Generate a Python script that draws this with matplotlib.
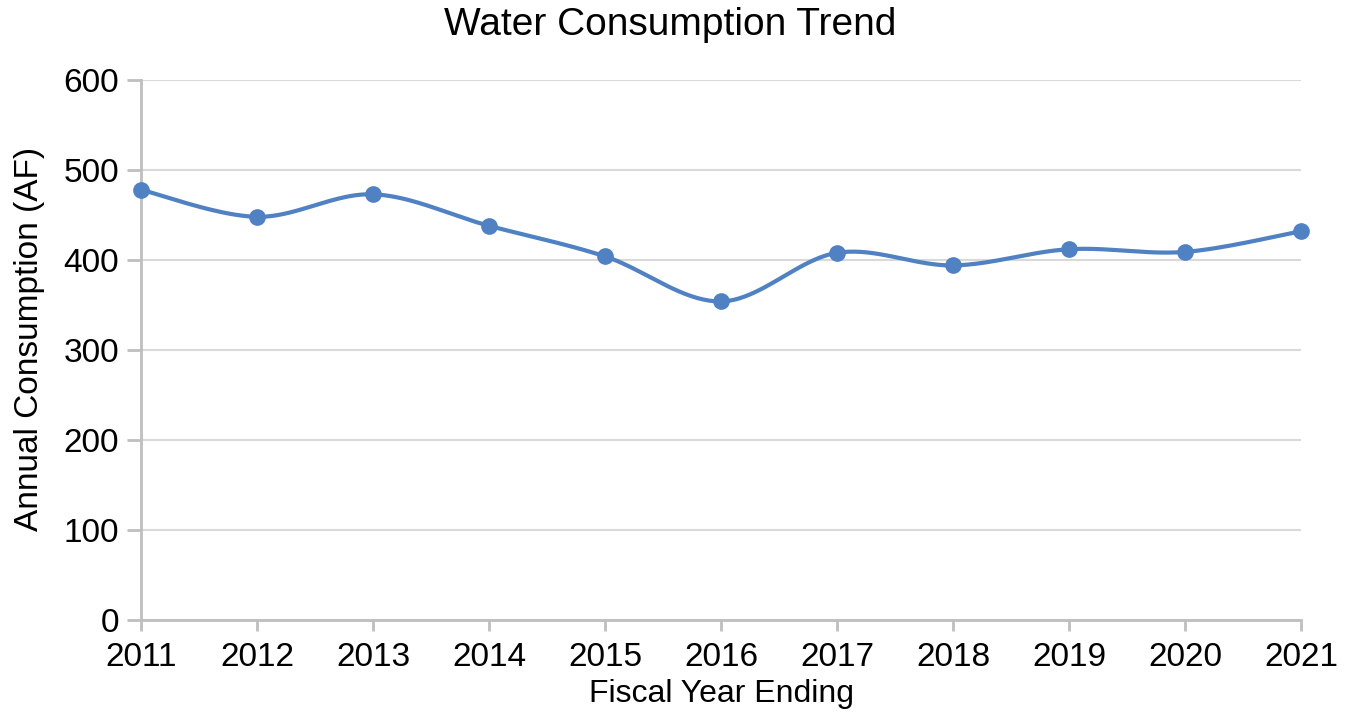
import numpy as np
from matplotlib import pyplot as plt

plt.rcParams['font.family'] = ['Liberation Sans', 'DejaVu Sans']

# данные
years = [2011, 2012, 2013, 2014, 2015, 2016, 2017, 2018, 2019, 2020, 2021]
consumption = [478, 448, 473, 438, 404, 354, 408, 394, 412, 409, 432]

blue = '#4F81C3'
grey = '#BFBFBF'

# сглаживание как в Excel (кривые Catmull-Rom через точки)
def smooth(x, y, n=40):
    x = np.asarray(x, float)
    y = np.asarray(y, float)
    px = np.concatenate([[x[0]], x, [x[-1]]])
    py = np.concatenate([[y[0]], y, [y[-1]]])
    xs, ys = [], []
    t = np.linspace(0, 1, n)
    for i in range(1, len(px) - 2):
        p0, p1, p2, p3 = (np.array([px[j], py[j]]) for j in range(i - 1, i + 3))
        c1 = p1 + (p2 - p0) / 6
        c2 = p2 - (p3 - p1) / 6
        b = ((1 - t) ** 3)[:, None] * p1 + (3 * (1 - t) ** 2 * t)[:, None] * c1 \
            + (3 * (1 - t) * t ** 2)[:, None] * c2 + (t ** 3)[:, None] * p2
        xs.extend(b[:, 0])
        ys.extend(b[:, 1])
    return xs, ys

fig = plt.figure(figsize=(13.51, 7.17), dpi=100)
ax = fig.add_axes([0.1044, 0.1353, 0.963 - 0.1044, 0.8884 - 0.1353])

sx, sy = smooth(years, consumption)
ax.plot(sx, sy, color=blue, lw=3, zorder=3)
ax.plot(years, consumption, 'o', color=blue, ms=11, zorder=4, clip_on=False)

ax.set_xlim(2011, 2021)
ax.set_ylim(0, 600)
ax.set_xticks(years)
ax.set_yticks(range(0, 601, 100))
ax.grid(axis='y', color='#D9D9D9', lw=1.5)
ax.set_axisbelow(True)

for s in ['top', 'right']:
    ax.spines[s].set_visible(False)
for s in ['left', 'bottom']:
    ax.spines[s].set_color(grey)
    ax.spines[s].set_linewidth(2)
ax.tick_params(axis='both', colors=grey, width=2, length=10, labelsize=24, labelcolor='black')
ax.tick_params(axis='x', length=8, pad=8)
ax.tick_params(axis='y', pad=6)

fig.text(0.496, 0.965, 'Water Consumption Trend', fontsize=28, ha='center', va='center')
ax.set_xlabel('Fiscal Year Ending', fontsize=23, labelpad=4)
ax.set_ylabel('Annual Consumption (AF)', fontsize=24, labelpad=14)
ax.yaxis.set_label_coords(-0.083, 0.52)

plt.savefig('out.png', dpi=100)
